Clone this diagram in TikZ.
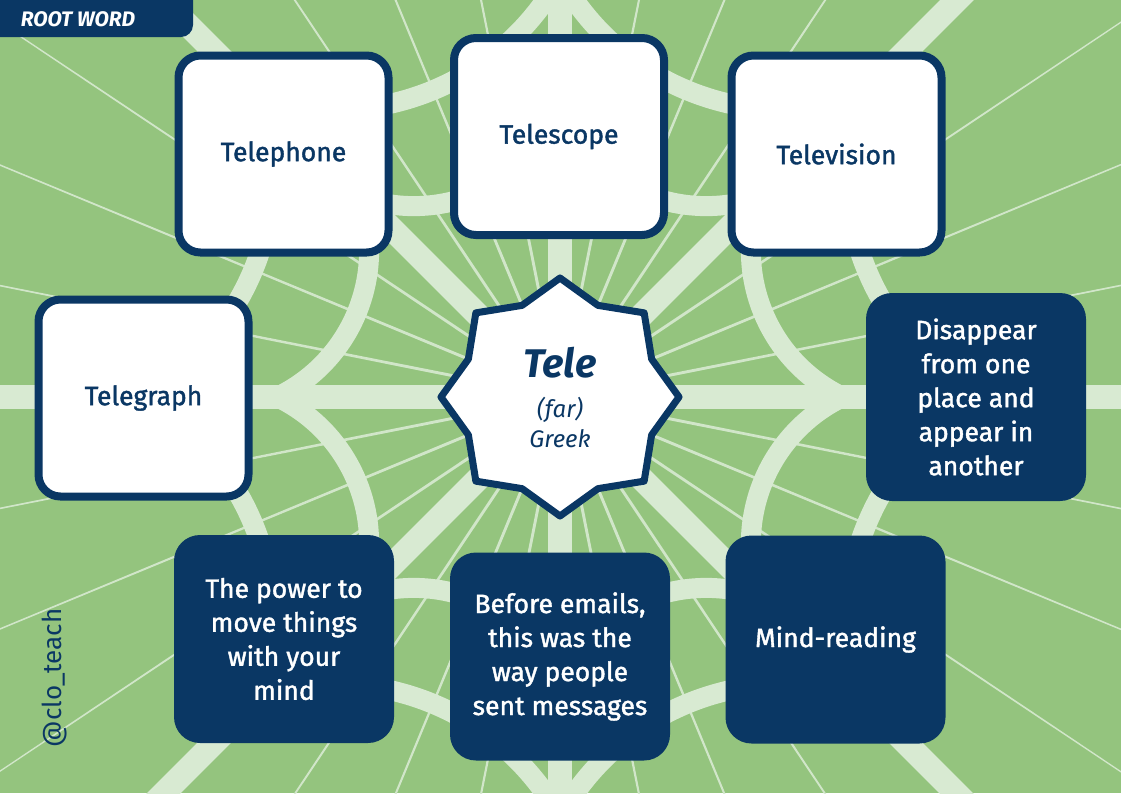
\documentclass[tikz,border=0pt]{standalone}
\usepackage{fontspec}
\setmainfont{Fira Sans}
\newfontfamily\labelfont{Fira Sans}[FakeBold=1.5]
\usetikzlibrary{shapes.geometric}
\definecolor{webgreen}{RGB}{148,196,126}
\definecolor{webline}{RGB}{216,234,210}
\definecolor{rootnavy}{RGB}{10,55,100}

\begin{document}
\begin{tikzpicture}[x=1pt, y=-1pt,
    every node/.style={font=\labelfont\fontsize{26.5}{34}\selectfont, text=rootnavy, align=center},
    wordbox/.style={draw=rootnavy, line width=8pt, fill=white, rounded corners=22pt,
        minimum width=210pt, minimum height=197pt},
    defbox/.style={fill=rootnavy, text=white, rounded corners=26pt,
        minimum width=220pt, minimum height=208pt},
    spoke/.style={webline, line width=24pt},
    thread/.style={fill=webline, opacity=0.9},
    ring/.style={webline, line width=20pt}]
  \useasboundingbox (0,0) rectangle (1121,793);
  \clip (0,0) rectangle (1121,793);
  \fill[webgreen] (0,0) rectangle (1121,793);
  % web behind the cards
  \begin{scope}[shift={(560,397)}]
    \foreach \a in {0,11.25,...,359}{
      \fill[thread] (\a-0.9:95) -- (\a+0.9:95) -- (\a+0.04:760) -- (\a-0.04:760) -- cycle;
    }
    \foreach \a [evaluate=\a as \b using \a+202.5] in {0,45,...,315}{
      \draw[spoke] (0,0) -- (\a:900);
      \draw[ring] ([shift={(\b-180:382.1)}]\b-41.9:162.1)
        arc[start angle=\b-41.9, end angle=\b+41.9, radius=162.1];
      \draw[ring] ([shift={(\b-180:590.6)}]\b-38.4:258.6)
        arc[start angle=\b-38.4, end angle=\b+38.4, radius=258.6];
    }
  \end{scope}
  % tab
  \fill[rootnavy, rounded corners=12pt] (-20,-20) rectangle (193,37);
  \node[font=\fontsize{21}{24}\selectfont\bfseries\itshape, text=white] (rootword) at (78,19) {ROOT WORD};
  \node[rotate=90, font=\fontsize{26}{30}\selectfont] (handle) at (55,678) {@clo\_teach};

  \node[star, star points=8, star point ratio=1.2, minimum size=238pt, inner sep=0pt,
        draw=rootnavy, line width=7pt, line join=round, fill=white,
        font=\fontsize{24}{30}\selectfont\itshape] (tele) at (560,397)
    {{\fontsize{40}{42}\selectfont\bfseries Tele}\\[10pt](far)\\Greek};

  \foreach \name/\x/\y/\txt in {
      telephone/283.5/154/Telephone,
      telescope/559/136.5/Telescope,
      television/836.5/154/Television,
      telegraph/143.5/398/Telegraph}{
    \node[wordbox] (\name) at (\x,\y) {\txt};
  }
  \foreach \name/\x/\y/\txt in {
      teleport/976/397/{Disappear\\from one\\place and\\appear in\\another},
      telekinesis/284/639/{The power to\\move things\\with your\\mind},
      telegram/560/656.5/{Before emails,\\this was the\\way people\\sent messages},
      telepathy/835.5/639.5/{Mind-reading}}{
    \node[defbox] (\name) at (\x,\y) {\txt};
  }
\end{tikzpicture}
\end{document}
